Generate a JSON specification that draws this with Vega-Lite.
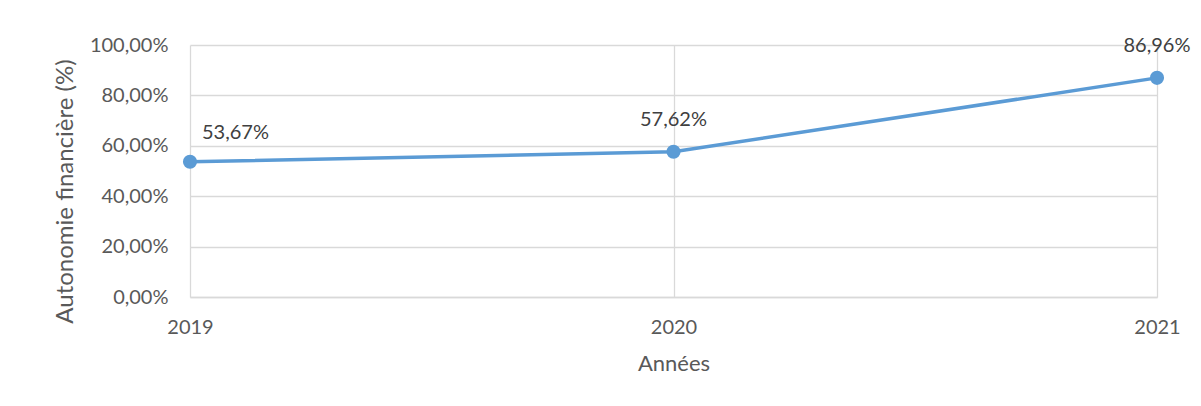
{
  "$schema": "https://vega.github.io/schema/vega-lite/v6.json",
  "width": 967,
  "height": 252,
  "autosize": {"type": "none"},
  "padding": {"left": 190, "top": 45, "right": 44, "bottom": 109},
  "background": "white",
  "config": {
    "locale": {"number": {"decimal": ",", "thousands": " ", "grouping": [3], "currency": ["", " €"]}},
    "font": "Lato",
    "view": {"stroke": null},
    "axis": {"labelColor": "#595959", "titleColor": "#595959", "gridColor": "#D9D9D9", "gridWidth": 1.3, "domainColor": "#D9D9D9", "domainWidth": 1.3, "ticks": false, "labelFontSize": 20, "titleFontSize": 22, "titleFontWeight": "normal"}
  },
  "data": {"values": [
    {"annee": "2019", "autonomie": 0.5367},
    {"annee": "2020", "autonomie": 0.5762},
    {"annee": "2021", "autonomie": 0.8696}
  ]},
  "encoding": {
    "x": {"field": "annee", "type": "ordinal", "scale": {"type": "point", "padding": 0},
      "axis": {"title": "Années", "labelPadding": 20, "titlePadding": 16, "domain": true, "grid": true, "labelAngle": 0, "labelFlush": false}},
    "y": {"field": "autonomie", "type": "quantitative", "scale": {"domain": [0, 1], "nice": false},
      "axis": {"values": [0, 0.2, 0.4, 0.6, 0.8, 1], "format": ".2%", "title": "Autonomie financière (%)", "titleFontSize": 24, "labelPadding": 22, "titlePadding": 12, "domain": false, "titleY": 146}}
  },
  "layer": [
    {"mark": {"type": "line", "color": "#5B9BD5", "strokeWidth": 3.5}},
    {"mark": {"type": "point", "filled": true, "opacity": 1, "color": "#5B9BD5", "size": 200}},
    {"transform": [{"filter": "datum.annee != '2019'"}],
      "mark": {"type": "text", "dy": -32, "fontSize": 20, "color": "#404040"},
      "encoding": {"text": {"field": "autonomie", "type": "quantitative", "format": ".2%"}}},
    {"transform": [{"filter": "datum.annee == '2019'"}],
      "mark": {"type": "text", "dy": -29, "dx": 12, "align": "left", "fontSize": 20, "color": "#404040"},
      "encoding": {"text": {"field": "autonomie", "type": "quantitative", "format": ".2%"}}}
  ]
}
